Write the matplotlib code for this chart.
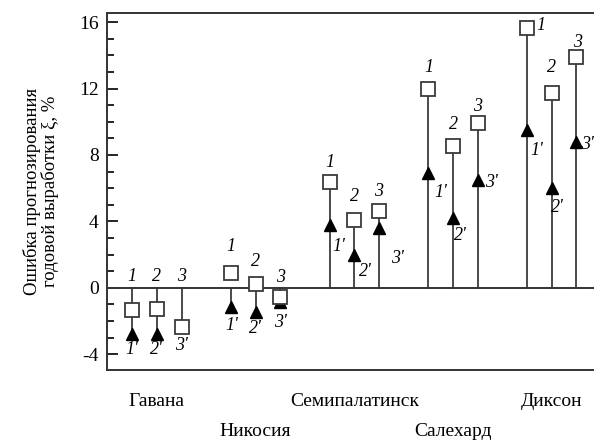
import matplotlib
matplotlib.use('Agg')
import matplotlib.pyplot as plt
import matplotlib.transforms as mtransforms
from matplotlib.ticker import MultipleLocator, FixedLocator

plt.rcParams['font.family'] = ['Liberation Serif', 'DejaVu Serif']
plt.rcParams['axes.unicode_minus'] = False

# данные
cities = ['Гавана', 'Никосия', 'Семипалатинск', 'Салехард', 'Диксон']
series_labels = ['1', '2', '3']
primed_labels = ["1'", "2'", "3'"]
# квадраты (1, 2, 3)
err_open = [
    [-1.35, -1.25, -2.35],
    [0.9, 0.2, -0.55],
    [6.4, 4.1, 4.6],
    [12.0, 8.55, 9.95],
    [15.65, 11.75, 13.9],
]
# треугольники (1', 2', 3')
err_filled = [
    [-2.8, -2.8, -2.3],
    [-1.15, -1.45, -0.85],
    [3.8, 2.0, 3.6],
    [6.9, 4.2, 6.5],
    [9.5, 6.0, 8.8],
]
y_major = [16, 12, 8, 4, 0, -4]

# смещения подписей в пикселях
lab_off = [
    [(0, 11), (0, 11), (0, 11)],
    [(0, 26), (0, 23), (0, 10)],
    [(0, 19), (0, 23), (0, 20)],
    [(0, 21), (0, 21), (0, 16)],
    [(14, 2), (0, 25), (1, 15)],
]
plab_off = [
    [(0, -15), (0, -15), (0, -20)],
    [(1, -19), (0, -17), (0, -21)],
    [(9, -22), (11, -17), (18, -30)],
    [(12, -19), (7, -17), (14, -3)],
    [(10, -20), (6, -19), (11, -3)],
]

fig = plt.figure(figsize=(5.94, 4.41), dpi=100)
ax = fig.add_axes([107 / 594, 1 - 370 / 441, 1.01 - 107 / 594, (370 - 13) / 441])

stem_color = '#4a4a4a'
for i, city in enumerate(cities):
    for j in range(3):
        x = 4 * i + (j - 1)
        a = err_open[i][j]
        b = err_filled[i][j]
        far = a if abs(a) > abs(b) else b
        ax.plot([x, x], [0, far], color=stem_color, lw=1.4, zorder=1)
        ax.plot(x, b, marker='^', color='black', markersize=8.5, ls='none', zorder=3)
        ax.plot(x, a, marker='s', mfc='white', mec='#3a3a3a', mew=1.3,
                markersize=10, ls='none', zorder=4)
        top = max(0, a, b)
        if i == 4 and j == 0:
            top = a
        ax.annotate(series_labels[j], (x, top), xytext=lab_off[i][j],
                    textcoords='offset pixels', ha='center', va='center',
                    fontsize=13, style='italic')
        ax.annotate(primed_labels[j], (x, b), xytext=plab_off[i][j],
                    textcoords='offset pixels', ha='center', va='center',
                    fontsize=13, style='italic')

ax.axhline(0, color='#333333', lw=1.4, zorder=2)

ax.set_xlim(-2.02, 17.95)
ax.set_ylim(-4.95, 16.55)
ax.set_xticks([])
ax.yaxis.set_major_locator(FixedLocator(y_major))
ax.yaxis.set_minor_locator(MultipleLocator(1))
ax.tick_params(axis='y', which='major', direction='in', length=8, width=1.2,
               labelsize=14, pad=6)
ax.tick_params(axis='y', which='minor', direction='in', length=5, width=1.2)
for s in ax.spines.values():
    s.set_linewidth(1.4)
    s.set_color('#333333')

ax.set_ylabel('Ошибка прогнозирования\nгодовой выработки ξ, %', fontsize=13.5,
              linespacing=1.0, labelpad=14)

trans = mtransforms.blended_transform_factory(ax.transData, fig.transFigure)
for i, city in enumerate(cities):
    yy = 1 - 402 / 441 if i % 2 == 0 else 1 - 432 / 441
    ax.text(4 * i, yy, city, transform=trans, ha='center', va='center', fontsize=14)

fig.savefig('out.png', dpi=100)
